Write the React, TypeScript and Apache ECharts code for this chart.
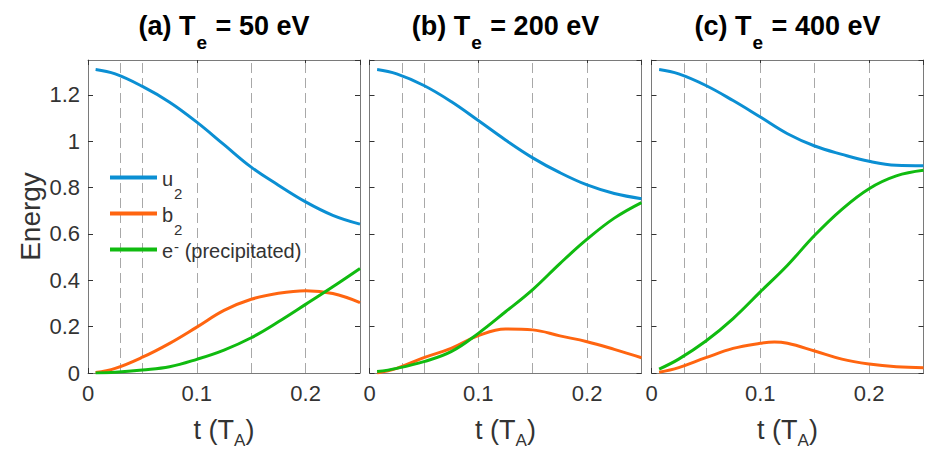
import React, { useEffect, useRef } from 'react';
import * as echarts from 'echarts';

// time axis samples (units of T_A)
const t = [0.007, 0.025, 0.05, 0.075, 0.1, 0.125, 0.15, 0.175, 0.2, 0.225, 0.25];
// panel (c) b2 has an extra sample at its peak
const tPeakC = [0.007, 0.025, 0.05, 0.075, 0.1, 0.113, 0.125, 0.15, 0.175, 0.2, 0.225, 0.25];

// (a) Te = 50 eV
const u2_50 = [1.309, 1.29, 1.236, 1.168, 1.082, 0.985, 0.888, 0.81, 0.738, 0.68, 0.642];
const b2_50 = [0.002, 0.02, 0.068, 0.128, 0.198, 0.27, 0.318, 0.344, 0.355, 0.343, 0.304];
const e_50 = [0.0, 0.003, 0.013, 0.027, 0.059, 0.099, 0.152, 0.221, 0.296, 0.372, 0.451];

// (b) Te = 200 eV
const u2_200 = [1.309, 1.29, 1.24, 1.171, 1.089, 1.005, 0.928, 0.864, 0.811, 0.774, 0.752];
const b2_200 = [0.0, 0.02, 0.066, 0.106, 0.161, 0.19, 0.186, 0.16, 0.135, 0.102, 0.066];
const e_200 = [0.006, 0.02, 0.049, 0.092, 0.171, 0.264, 0.36, 0.472, 0.577, 0.668, 0.735];

// (c) Te = 400 eV
const u2_400 = [1.309, 1.29, 1.24, 1.175, 1.104, 1.032, 0.979, 0.943, 0.913, 0.896, 0.894];
const b2_400 = [0.003, 0.023, 0.066, 0.106, 0.128, 0.134, 0.128, 0.095, 0.06, 0.039, 0.027, 0.023];
const e_400 = [0.017, 0.06, 0.138, 0.235, 0.35, 0.465, 0.594, 0.706, 0.795, 0.85, 0.874];

const panelData = [
  [u2_50, b2_50, e_50],
  [u2_200, b2_200, e_200],
  [u2_400, b2_400, e_400],
];
const panelTimes = [
  [t, t, t],
  [t, t, t],
  [t, tPeakC, t],
];

const panelTitles = [
  ['(a) T', 'e', ' = 50 eV'],
  ['(b) T', 'e', ' = 200 eV'],
  ['(c) T', 'e', ' = 400 eV'],
];

const dashTimes = [0.025, 0.05, 0.1, 0.15, 0.2];
const xTickInterval = 0.1;
const yTickInterval = 0.2;

const seriesNames = ['u2', 'b2', 'e-'];
const legendLabels: Record<string, string> = {
  u2: '{n|u}{sub|2}',
  b2: '{n|b}{sub|2}',
  'e-': '{n|e}{sup|-}{n| (precipitated)}',
};
const colors = ['#0b8fd3', '#ff6510', '#10bb10'];

const FONT = "'Liberation Sans', Arial, Helvetica, sans-serif";
const TXT = '#333333';

const lefts = [88, 369.5, 651.5];
const GW = 272;
const GT = 60;
const GH = 313;

export default function App() {
  const ref = useRef<HTMLDivElement>(null);
  useEffect(() => {
    if (!ref.current) return;
    const chart = echarts.init(ref.current, undefined, { renderer: 'svg' });

    const grid = lefts.map((l) => ({
      left: l,
      top: GT,
      width: GW,
      height: GH,
      containLabel: false,
      outerBoundsMode: 'none',
    }));

    const frameLine = { show: true, onZero: false, lineStyle: { color: '#7a7a7a', width: 1 } };
    const tick = { show: true, inside: true, length: 5, lineStyle: { color: '#333', width: 1 } };

    const xAxis: any[] = [];
    const yAxis: any[] = [];
    lefts.forEach((_, i) => {
      xAxis.push({
        type: 'value',
        gridIndex: i,
        position: 'bottom',
        min: 0,
        max: 0.25,
        interval: xTickInterval,
        axisLine: frameLine,
        axisTick: tick,
        splitLine: { show: false },
        axisLabel: {
          show: true,
          showMaxLabel: false,
          fontSize: 22,
          color: TXT,
          fontFamily: FONT,
          margin: 9,
        },
        name: '{n|t (T}{sub|A}{n|)}',
        nameLocation: 'middle',
        nameGap: 43,
        nameTextStyle: {
          fontFamily: FONT,
          color: TXT,
          rich: {
            n: { fontSize: 27, lineHeight: 30, verticalAlign: 'top', color: TXT, fontFamily: FONT },
            sub: { fontSize: 17, lineHeight: 17, padding: [16, 0, 0, 0], verticalAlign: 'top', color: TXT, fontFamily: FONT },
          },
        },
      });
      xAxis.push({
        type: 'value',
        gridIndex: i,
        position: 'top',
        min: 0,
        max: 0.25,
        interval: xTickInterval,
        axisLine: frameLine,
        axisTick: tick,
        splitLine: { show: false },
        axisLabel: { show: false },
      });
      yAxis.push({
        type: 'value',
        gridIndex: i,
        position: 'left',
        min: 0,
        max: 1.35,
        interval: yTickInterval,
        axisLine: frameLine,
        axisTick: tick,
        splitLine: { show: false },
        axisLabel: {
          show: i === 0,
          showMaxLabel: false,
          fontSize: 22,
          color: TXT,
          fontFamily: FONT,
          margin: 8,
        },
        name: i === 0 ? 'Energy' : '',
        nameLocation: 'middle',
        nameGap: 44,
        nameTextStyle: { fontSize: 28, color: TXT, fontFamily: FONT },
      });
      yAxis.push({
        type: 'value',
        gridIndex: i,
        position: 'right',
        min: 0,
        max: 1.35,
        interval: yTickInterval,
        axisLine: frameLine,
        axisTick: tick,
        splitLine: { show: false },
        axisLabel: { show: false },
      });
    });

    const series: any[] = [];
    panelData.forEach((vals, i) => {
      vals.forEach((arr, s) => {
        const times = panelTimes[i][s];
        const ser: any = {
          type: 'line',
          name: seriesNames[s],
          xAxisIndex: 2 * i,
          yAxisIndex: 2 * i,
          data: times.map((x, k) => [x, arr[k]]),
          smooth: 0.4,
          showSymbol: false,
          symbol: 'none',
          lineStyle: { width: 3, color: colors[s] },
          itemStyle: { color: colors[s] },
          z: 3 + s,
        };
        if (s === 0) {
          ser.markLine = {
            silent: true,
            z: 1,
            symbol: ['none', 'none'],
            label: { show: false },
            lineStyle: { type: [10, 5], color: '#a8a8a8', width: 1 },
            data: dashTimes.map((x) => ({ xAxis: x })),
          };
        }
        series.push(ser);
      });
    });

    const title = panelTitles.map((p, i) => ({
      text: `{b|${p[0]}}{s|${p[1]}}{b|${p[2]}}`,
      left: lefts[i] + GW / 2,
      top: 12,
      textAlign: 'center',
      padding: 0,
      textStyle: {
        fontFamily: FONT,
        rich: {
          b: { fontSize: 27, fontWeight: 'bold', lineHeight: 30, verticalAlign: 'top', color: '#000', fontFamily: FONT },
          s: { fontSize: 19, fontWeight: 'bold', lineHeight: 20, padding: [21, 1, 0, 1], verticalAlign: 'top', color: '#000', fontFamily: FONT },
        },
      },
    }));

    const option: any = {
      animation: false,
      backgroundColor: '#ffffff',
      title,
      grid,
      xAxis,
      yAxis,
      legend: {
        data: seriesNames,
        orient: 'vertical',
        left: 110,
        top: 166,
        padding: 0,
        itemGap: 1,
        itemWidth: 47,
        itemHeight: 4,
        icon: 'rect',
        selectedMode: false,
        formatter: (name: string) => legendLabels[name] || name,
        textStyle: {
          fontFamily: FONT,
          fontSize: 20,
          color: TXT,
          rich: {
            n: { fontSize: 20, lineHeight: 23, padding: [3, 0, 0, 0], verticalAlign: 'top', color: TXT, fontFamily: FONT },
            sub: { fontSize: 15, lineHeight: 14, padding: [20, 0, 0, 1], verticalAlign: 'top', color: TXT, fontFamily: FONT },
            sup: { fontSize: 15, lineHeight: 14, padding: [1, 0, 0, 1], verticalAlign: 'top', color: TXT, fontFamily: FONT },
          },
        },
      },
      series,
    };

    chart.setOption(option);
    return () => chart.dispose();
  }, []);

  return (
    <div
      ref={ref}
      style={{ position: 'fixed', left: 0, top: 0, width: 928, height: 450, background: '#fff' }}
    />
  );
}
